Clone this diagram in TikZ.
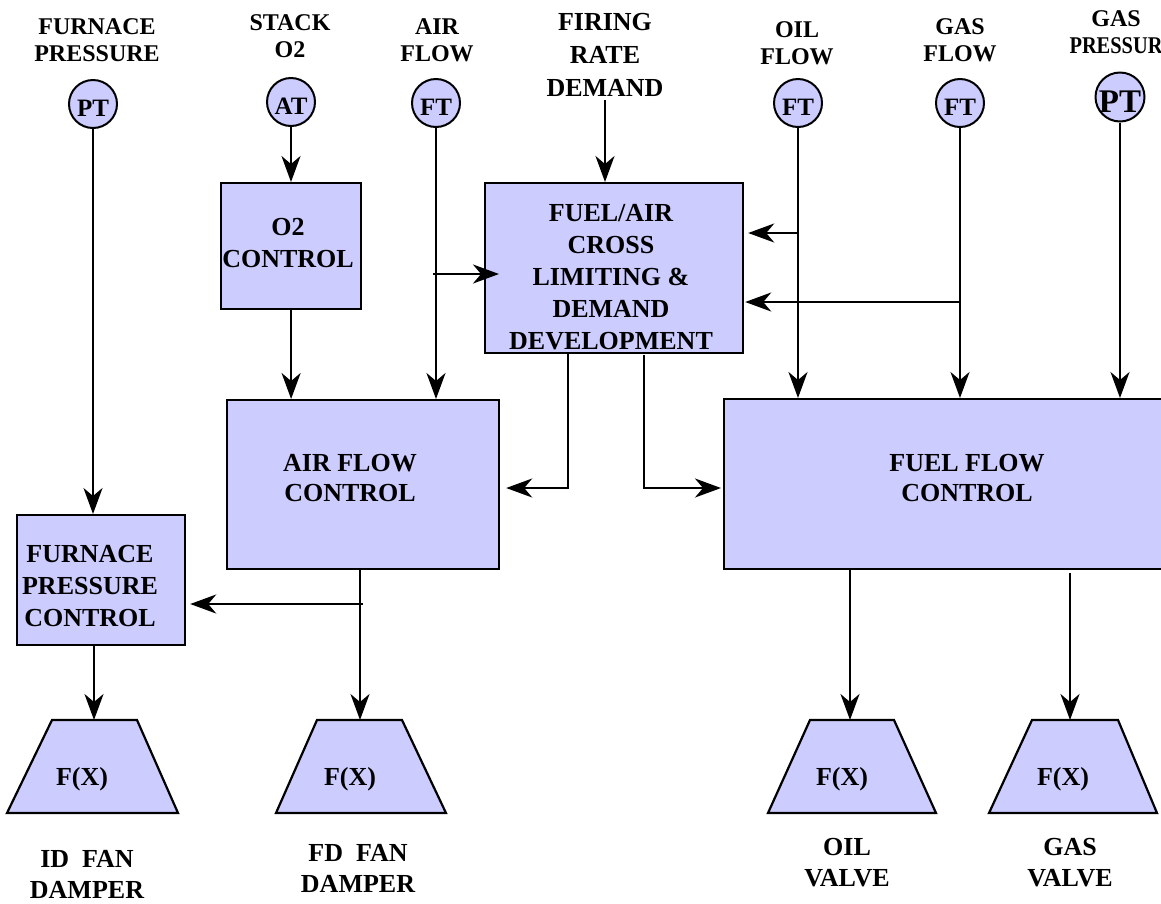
\documentclass[tikz,border=0pt]{standalone}
\usepackage{graphicx}
\usepackage{fontspec}
\setmainfont{Liberation Serif}
\usetikzlibrary{arrows.meta}
\definecolor{boxfill}{RGB}{204,204,255}
\begin{document}
\begin{tikzpicture}[x=1pt,y=-1pt,
  box/.style={draw=black, line width=2.2pt, fill=boxfill, inner sep=0pt, anchor=north west},
  trapz/.style={draw=black, line width=2.2pt, fill=boxfill, line join=miter},
  circ/.style={draw=black, line width=2pt, fill=boxfill, circle, minimum size=48pt, inner sep=0pt,
    font=\fontsize{25}{25}\selectfont\bfseries, text height=24pt, text depth=0pt},
  bigcirc/.style={circ, minimum size=49pt, font=\fontsize{33}{33}\selectfont\bfseries, text height=30pt},
  arr/.style={line width=2.2pt, -{Stealth[length=26pt,width=19pt,inset=8pt]}},
  txt/.style={font=\fontsize{26}{32}\selectfont\bfseries, align=center, inner sep=0pt},
  lbl/.style={font=\fontsize{24}{27}\selectfont\bfseries, align=center, inner sep=0pt},
  btxt/.style={font=\fontsize{26}{31}\selectfont\bfseries, align=center, inner sep=0pt}]
\useasboundingbox (0,0) rectangle (1161,903);
\clip (0,0) rectangle (1161,903);

% top labels
\node[lbl] (lfp) at (97,40) {FURNACE\\PRESSURE};
\node[lbl] (lso) at (290,36) {STACK\\O2};
\node[lbl] (laf) at (437,40) {AIR\\FLOW};
\node[txt, font=\fontsize{26}{33}\selectfont\bfseries] (frd) at (605,55) {FIRING\\RATE\\DEMAND};
\node[lbl] (lof) at (797,43) {OIL\\FLOW};
\node[lbl] (lgf) at (960,40) {GAS\\FLOW};
\node[lbl] (lgp) at (1116,32) {GAS\\\scalebox{0.85}[1]{PRESSUR}};

% transmitters
\node[circ] (ptf) at (93,104) {\makebox[0pt]{PT}};
\node[circ] (at) at (291,102) {\makebox[0pt]{AT}};
\node[circ] (fta) at (436,103) {\makebox[0pt]{FT}};
\node[circ] (fto) at (798,103) {\makebox[0pt]{FT}};
\node[circ] (ftg) at (960,103) {\makebox[0pt]{FT}};
\node[bigcirc] (ptg) at (1120,97) {\makebox[0pt]{PT}};

% boxes
\node[box, minimum width=140pt, minimum height=126pt] (o2) at (220,182) {};
\node[txt] (o2t) at (288,243) {O2\\CONTROL};
\node[box, minimum width=258pt, minimum height=170pt] (fa) at (484,182) {};
\node[txt] (fat) at (611,277) {FUEL/AIR\\CROSS\\LIMITING \&\hspace{0.6em}\\DEMAND\\DEVELOPMENT};
\node[box, minimum width=272pt, minimum height=169pt] (afc) at (226,399) {};
\node[txt, font=\fontsize{26}{30}\selectfont\bfseries] (afct) at (350,478) {AIR FLOW\\CONTROL};
\node[box, minimum width=470pt, minimum height=170pt] (ffc) at (723,398) {};
\node[txt, font=\fontsize{26}{30}\selectfont\bfseries] (ffct) at (967,478) {FUEL FLOW\\CONTROL};
\node[box, minimum width=168pt, minimum height=130pt] (fpc) at (16,514) {};
\node[txt] (fpct) at (90,586) {FURNACE\\PRESSURE\\CONTROL};

% function blocks
\draw[trapz] (7,813) -- (52,720) -- (137,720) -- (178,813) -- cycle;
\draw[trapz] (276,813) -- (317,720) -- (402,720) -- (446,813) -- cycle;
\draw[trapz] (768,813) -- (810,720) -- (894,720) -- (936,813) -- cycle;
\draw[trapz] (989,813) -- (1032,720) -- (1118,720) -- (1157,813) -- cycle;
\coordinate (idtop) at (94,720);
\coordinate (fdtop) at (360,720);
\coordinate (oiltop) at (850,720);
\coordinate (gastop) at (1070,720);
\node[txt] (fx1) at (82,779) {F(X)};
\node[txt] (fx2) at (350,779) {F(X)};
\node[txt] (fx3) at (842,779) {F(X)};
\node[txt] (fx4) at (1063,779) {F(X)};

% bottom labels
\node[btxt] (lid) at (87,874) {ID\enspace FAN\\DAMPER};
\node[btxt] (lfd) at (358,868) {FD\enspace FAN\\DAMPER};
\node[btxt] (lov) at (847,863) {OIL\\VALVE};
\node[btxt] (lgv) at (1070,863) {GAS\\VALVE};

% connectors
\draw[arr] (ptf.south) -- (ptf.south |- fpc.north);
\draw[arr] (at.south) -- (at.south |- o2.north);
\draw[arr] (o2.south) -- (o2.south |- afc.north);
\draw[arr] (fta.south) -- (fta.south |- afc.north);
\coordinate (airbr) at (433,274);
\draw[arr, shorten >=-15pt] (airbr) -- (airbr -| fa.west);
\draw[arr] ([yshift=-3pt]frd.south) -- (frd.south |- fa.north);
\draw[arr] (fto.south) -- (fto.south |- ffc.north);
\coordinate (oilbr) at (798,233);
\draw[arr, shorten >=4pt] (oilbr) -- (oilbr -| fa.east);
\draw[arr] (ftg.south) -- (ftg.south |- ffc.north);
\coordinate (gasbr) at (960,302);
\draw[arr, shorten >=1pt] (gasbr) -- (gasbr -| fa.east);
\draw[arr] (ptg.south) -- (ptg.south |- ffc.north);
\coordinate (fabl) at (568,352);
\coordinate (j1) at (568,488);
\draw[arr, shorten >=6pt] (fabl) -- (j1) -- (j1 -| afc.east);
\coordinate (fabr) at (644,355);
\coordinate (j2) at (644,488);
\draw[arr, shorten >=2pt] (fabr) -- (j2) -- (j2 -| ffc.west);
\draw[arr] (fdtop |- afc.south) -- (fdtop);
\coordinate (j3) at (363,604);
\draw[arr, shorten >=4pt] (j3) -- (j3 -| fpc.east);
\draw[arr] (idtop |- fpc.south) -- (idtop);
\draw[arr] (oiltop |- ffc.south) -- (oiltop);
\draw[arr] ([yshift=-3pt]gastop |- ffc.south) -- (gastop);
\end{tikzpicture}
\end{document}
